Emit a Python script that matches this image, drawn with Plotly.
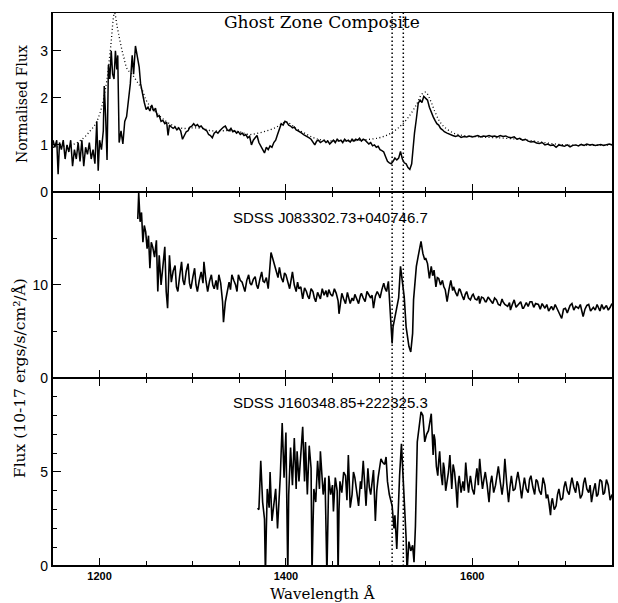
import plotly.graph_objects as go
from plotly.subplots import make_subplots

# ---- Ghost zone composite (normalised) ----
comp_wave = [1150, 1152, 1154, 1155.5, 1157, 1159, 1161, 1163, 1165, 1167, 1169, 1171, 1173, 1175, 1177, 1179,
             1181, 1183, 1185, 1187, 1189, 1191, 1193, 1195, 1197, 1198.5, 1200, 1202, 1204, 1205, 1206.5, 1208,
             1209.5, 1211, 1212.5, 1214, 1215.5, 1217, 1218.5, 1219.5, 1221, 1223, 1225, 1227, 1229, 1231, 1233,
             1235, 1236.5, 1238.5, 1240.5, 1242.5, 1244, 1246, 1248, 1250, 1252, 1254, 1256, 1258, 1260, 1262,
             1264, 1266, 1268, 1270, 1272, 1273.5, 1275, 1277, 1279, 1281, 1283, 1285, 1287, 1289, 1291, 1293,
             1295, 1297, 1299, 1301, 1303, 1305, 1307, 1309, 1311, 1313, 1315, 1317, 1319, 1321, 1323, 1325,
             1327, 1329, 1331, 1333, 1335, 1337, 1339, 1341, 1343, 1345, 1347, 1349, 1351, 1353, 1355, 1357,
             1359, 1361, 1363, 1365, 1367, 1369, 1371, 1373, 1375, 1377, 1379, 1381, 1383, 1385, 1387, 1389,
             1391, 1393, 1395, 1397, 1399, 1401, 1403, 1405, 1407, 1409, 1411, 1413, 1415, 1417, 1419, 1421,
             1423, 1425, 1427, 1429, 1431, 1433, 1435, 1437, 1439, 1441, 1443, 1445, 1447, 1449, 1451, 1453,
             1455, 1457, 1459, 1461, 1463, 1465, 1467, 1469, 1471, 1473, 1475, 1477, 1479, 1481, 1483, 1485,
             1487, 1489, 1491, 1493, 1495, 1497, 1499, 1501, 1503, 1505, 1507, 1509, 1511, 1513, 1515, 1517,
             1519, 1521, 1523, 1525, 1527, 1529, 1531, 1533, 1535, 1536.5, 1538, 1540, 1542, 1544, 1546, 1548,
             1550, 1552, 1554, 1556, 1558, 1560, 1562, 1564, 1566, 1568, 1570, 1573, 1576, 1579, 1582, 1585,
             1588, 1591, 1594, 1597, 1600, 1603, 1606, 1609, 1612, 1615, 1618, 1621, 1624, 1627, 1630, 1633,
             1636, 1639, 1642, 1645, 1648, 1651, 1654, 1657, 1660, 1663, 1666, 1669, 1672, 1675, 1678, 1681,
             1684, 1687, 1690, 1693, 1696, 1699, 1702, 1705, 1708, 1711, 1714, 1717, 1720, 1723, 1726, 1729,
             1732, 1735, 1738, 1741, 1744, 1747, 1750]
comp_flux = [1.1, 0.95, 1.1, 0.38, 1.05, 0.9, 1.1, 0.7, 1.0, 0.85, 1.1, 0.55, 0.9, 0.7, 1.05, 0.65,
             1.1, 0.55, 0.95, 0.8, 1.05, 0.7, 0.9, 0.6, 1.5, 0.45, 1.1, 0.9, 1.3, 2.25, 1.6, 0.68,
             2.7, 2.4, 3.0, 2.5, 2.4, 3.0, 2.6, 2.9, 1.05, 1.3, 1.02, 1.5, 1.6, 2.0, 2.3,
             2.9, 2.5, 3.1, 2.9, 2.65, 2.3, 2.05, 1.9, 1.75, 1.8, 1.72, 1.85, 1.72, 1.78, 1.6,
             1.62, 1.5, 1.52, 1.45, 1.48, 1.2, 1.42, 1.38, 1.35, 1.38, 1.32, 1.36, 1.3, 1.12, 1.22, 1.28,
             1.3, 1.38, 1.4, 1.45, 1.4, 1.43, 1.38, 1.4, 1.35, 1.32, 1.3, 1.22, 1.2, 1.15, 1.25, 1.28,
             1.25, 1.3, 1.35, 1.38, 1.4, 1.32, 1.3, 1.35, 1.28, 1.3, 1.25, 1.28, 1.22, 1.25, 1.2, 1.22,
             1.15, 1.18, 1.0, 1.1, 1.15, 1.2, 1.05, 0.98, 0.9, 0.83, 0.95, 0.9, 0.98, 0.95, 1.05, 1.1,
             1.22, 1.35, 1.45, 1.42, 1.5, 1.48, 1.42, 1.4, 1.36, 1.38, 1.32, 1.3, 1.28, 1.25, 1.22, 1.2,
             1.18, 1.15, 1.12, 1.05, 1.0, 1.08, 1.1, 1.05, 1.08, 1.1, 1.05, 1.08, 1.02, 1.06, 1.1, 1.05,
             1.12, 1.08, 1.1, 1.05, 1.12, 1.08, 1.1, 1.06, 1.12, 1.08, 1.12, 1.1, 1.14, 1.08, 1.12, 1.1,
             1.05, 1.02, 1.05, 0.98, 1.0, 0.95, 0.97, 0.9, 0.88, 0.85, 0.75, 0.65, 0.62, 0.6, 0.65, 0.72,
             0.68, 0.72, 0.86, 0.7, 0.62, 0.6, 0.52, 0.48, 0.6, 0.95, 1.25, 1.55, 1.88, 1.95, 1.9, 2.03,
             1.98, 1.95, 1.8, 1.68, 1.6, 1.52, 1.45, 1.42, 1.35, 1.32, 1.28, 1.25, 1.22, 1.2, 1.18, 1.2,
             1.16, 1.18, 1.17, 1.19, 1.17, 1.18, 1.2, 1.17, 1.19, 1.18, 1.2, 1.18, 1.19, 1.17, 1.2, 1.18,
             1.19, 1.16, 1.15, 1.17, 1.12, 1.14, 1.1, 1.12, 1.08, 1.06, 1.07, 1.04, 1.03, 1.05, 1.0, 1.02,
             0.99, 1.0, 0.95, 1.0, 0.98, 0.97, 1.0, 0.96, 0.99, 1.0, 0.98, 1.01, 0.99, 1.02, 1.0, 1.01,
             0.99, 1.0, 1.01, 0.99, 1.0, 1.02, 1.0]

# Unabsorbed template continuum (dotted)
cont_wave = [1150, 1160, 1170, 1180, 1190, 1196, 1200, 1204, 1208, 1212, 1216, 1219, 1222, 1226, 1230,
             1235, 1240, 1245, 1250, 1255, 1260, 1270, 1280, 1290, 1300, 1310, 1320, 1330, 1340, 1350,
             1360, 1370, 1380, 1390, 1398, 1402, 1410, 1420, 1430, 1440, 1460, 1480, 1490, 1500, 1510,
             1520, 1530, 1540, 1546, 1550, 1555, 1560, 1565, 1570, 1580, 1590, 1600, 1650, 1700, 1750]
cont_flux = [0.95, 0.97, 1.0, 1.1, 1.3, 1.46, 1.65, 1.95, 2.4, 3.1, 3.8, 3.5, 3.2, 2.85, 2.6,
             2.5, 2.35, 2.2, 1.95, 1.8, 1.7, 1.52, 1.4, 1.35, 1.36, 1.35, 1.3, 1.3, 1.3, 1.28,
             1.22, 1.25, 1.3, 1.38, 1.48, 1.48, 1.36, 1.25, 1.15, 1.1, 1.08, 1.1, 1.12, 1.15, 1.22,
             1.35, 1.55, 1.85, 2.08, 2.12, 1.95, 1.7, 1.5, 1.38, 1.25, 1.2, 1.18, 1.12, 1.0, 1.0]

# ---- SDSS J083302.73+040746.7 ----
j0833_wave = [1241, 1242, 1243.5, 1245, 1246.5, 1248, 1249.5, 1251, 1252.5, 1254, 1255.5, 1257, 1259, 1261,
              1262.5, 1264, 1266, 1268, 1270, 1271.5, 1273, 1275, 1277, 1279, 1281, 1282.5, 1284, 1286,
              1288, 1289.5, 1291, 1293, 1295, 1296.5, 1298, 1300, 1302, 1303.5, 1305, 1307, 1309, 1311,
              1312, 1314, 1316, 1318, 1320, 1321.5, 1323, 1325, 1326.5, 1328, 1330, 1332, 1333, 1335,
              1337, 1339, 1340.5, 1342, 1344, 1346, 1347.5, 1349, 1351, 1353, 1354.5, 1356, 1358, 1360,
              1361.5, 1363, 1365, 1367, 1368.5, 1370, 1372, 1374, 1375.5, 1377, 1379, 1381, 1382.5, 1384,
              1386, 1388, 1390, 1391.5, 1393, 1395, 1397, 1398.5, 1400, 1402, 1404, 1405.5, 1407, 1409,
              1411, 1412.5, 1414, 1416, 1418, 1420, 1422, 1423.5, 1425, 1427, 1429, 1430.5, 1432, 1434,
              1436, 1437, 1439, 1441, 1443, 1444.5, 1446, 1448, 1450, 1452, 1454, 1456, 1457, 1459,
              1460, 1462, 1464, 1466, 1467, 1469, 1471, 1472.5, 1474, 1476, 1478, 1480, 1481, 1483,
              1485, 1487, 1489, 1491, 1492.5, 1494, 1496, 1498, 1500, 1501, 1503, 1505, 1506.5, 1508,
              1510, 1512, 1514, 1515, 1517, 1519, 1521, 1523, 1525, 1527, 1529, 1532, 1534, 1536,
              1537, 1540, 1542, 1543, 1545, 1547, 1549, 1550, 1552, 1554, 1556, 1557.5, 1559, 1561,
              1562.5, 1564, 1566, 1568, 1569.5, 1571, 1573, 1575, 1577, 1579, 1580, 1582, 1584, 1586,
              1587, 1589, 1591, 1592.5, 1594, 1596, 1598, 1600, 1601, 1603, 1605, 1607, 1608, 1610,
              1612, 1614, 1615, 1617, 1619, 1621, 1622, 1624, 1626, 1628, 1630, 1632, 1633, 1635,
              1638, 1640, 1641, 1643, 1645, 1647, 1648, 1650, 1652, 1654, 1655, 1658, 1660, 1662,
              1664, 1666, 1668, 1671, 1673, 1675, 1678, 1680, 1682, 1685, 1687, 1689, 1691, 1693,
              1696, 1698, 1700, 1702, 1705, 1707, 1709, 1711, 1714, 1716, 1719, 1721, 1723, 1725,
              1727, 1730, 1732, 1734, 1737, 1739, 1741, 1744, 1746, 1748, 1750]
j0833_flux = [17.1, 19.9, 16.8, 17.8, 14.6, 16.4, 15.7, 13.9, 15.3, 11.8, 14.6, 14.1, 13.0, 14.8,
              9.3, 13.2, 10.0, 12.5, 14.1, 9.3, 7.5, 13.2, 10.3, 11.5, 12.1, 9.8, 9.3, 11.0,
              12.5, 10.5, 10.0, 11.5, 12.3, 10.2, 9.6, 10.8, 11.8, 10.0, 9.3, 10.5, 11.4, 10.2,
              12.5, 10.6, 9.3, 10.4, 11.1, 10.0, 9.6, 10.5, 9.5, 11.1, 10.2, 8.2, 6.0, 8.2,
              9.5, 10.3, 9.5, 11.1, 10.5, 10.0, 9.3, 11.1, 10.5, 10.3, 9.8, 9.3, 10.5, 11.1,
              10.2, 10.0, 10.6, 10.9, 10.0, 9.6, 10.6, 11.4, 10.4, 10.3, 10.8, 9.6, 11.5, 13.5,
              12.8, 12.0, 11.4, 10.8, 11.9, 10.8, 10.3, 11.3, 11.1, 10.2, 9.6, 10.5, 11.4, 10.0,
              9.3, 10.3, 9.6, 9.8, 8.5, 9.7, 9.3, 8.8, 8.5, 9.6, 9.3, 8.6, 8.2, 9.2,
              8.8, 8.5, 9.6, 8.9, 9.4, 8.7, 9.5, 9.0, 8.8, 9.6, 9.1, 8.3, 6.9, 8.6,
              9.1, 8.5, 8.0, 9.2, 8.8, 8.0, 8.6, 8.3, 9.0, 8.4, 8.0, 8.9, 9.1, 8.6,
              8.2, 9.3, 9.0, 8.6, 8.9, 7.5, 8.8, 9.3, 8.9, 8.6, 9.5, 10.2, 9.6, 9.3,
              10.4, 7.3, 3.7, 5.5, 6.5, 7.3, 8.6, 12.0, 10.5, 8.7, 5.5, 3.4, 2.8, 4.8,
              8.4, 12.0, 13.1, 13.8, 14.7, 13.4, 12.7, 12.9, 12.3, 10.7, 12.0, 11.0, 11.6, 9.8,
              10.8, 10.7, 10.0, 10.5, 9.8, 9.5, 8.2, 9.5, 10.5, 9.4, 9.8, 9.2, 8.8, 9.6,
              9.5, 8.9, 8.4, 9.0, 9.3, 8.6, 8.4, 8.9, 9.0, 8.5, 8.4, 8.8, 8.0, 8.7,
              8.6, 8.2, 8.2, 8.7, 8.4, 8.1, 8.0, 8.6, 8.4, 7.9, 7.8, 8.5, 8.2, 7.9,
              7.7, 8.1, 7.3, 7.9, 8.4, 7.6, 7.7, 8.0, 8.2, 7.5, 7.5, 8.1, 7.7, 8.2,
              8.2, 7.6, 8.0, 7.9, 7.4, 8.0, 7.5, 7.9, 7.2, 7.7, 7.3, 7.9, 7.5, 7.1,
              6.4, 7.4, 7.5, 7.0, 7.8, 8.0, 7.3, 7.7, 7.5, 7.9, 6.6, 7.4, 7.8, 7.9,
              7.2, 7.6, 7.3, 7.9, 7.2, 7.9, 7.4, 7.8, 7.3, 7.6, 8.0]

# ---- SDSS J160348.85+222325.3 ----
j1603_wave = [1369.5, 1371, 1373, 1375, 1377, 1378, 1379, 1380, 1382, 1383, 1385, 1387, 1389, 1391,
              1393, 1394, 1396, 1398, 1400, 1401, 1402, 1403, 1405, 1407, 1409, 1411, 1412, 1414,
              1416, 1418, 1420, 1421, 1423, 1425, 1427, 1428, 1429, 1430, 1432, 1434, 1436, 1437,
              1440, 1442, 1444, 1445, 1446, 1448, 1450, 1451, 1453, 1455, 1456, 1457, 1458, 1460,
              1462, 1464, 1465.5, 1467, 1469, 1471, 1472.5, 1474, 1476, 1478, 1480, 1481, 1483, 1486,
              1488, 1489.5, 1491, 1494, 1496, 1497.5, 1499, 1502, 1504, 1506, 1507.5, 1509, 1511, 1514,
              1516, 1517, 1519, 1520, 1522, 1524, 1526, 1527, 1529, 1530, 1532, 1534, 1536, 1537.5,
              1539, 1541, 1543, 1545, 1547, 1549, 1551, 1553, 1556, 1557, 1558, 1559, 1560, 1561.5,
              1563, 1564, 1565, 1566.5, 1568, 1569, 1570, 1571.5, 1573, 1574.5, 1576, 1577, 1578, 1579.5,
              1581, 1582.5, 1584, 1585, 1586, 1588, 1590, 1591.5, 1593, 1594.5, 1596, 1597, 1598, 1600,
              1602, 1603.5, 1605, 1606.5, 1608, 1609.5, 1611, 1612.5, 1614, 1616, 1618, 1619.5, 1621, 1623,
              1625, 1626.5, 1628, 1630, 1632, 1633.5, 1635, 1637, 1639, 1640.5, 1642, 1644, 1646, 1647.5,
              1649, 1651, 1653, 1654.5, 1656, 1658, 1660, 1661.5, 1663, 1665, 1667, 1668.5, 1670, 1672,
              1674, 1676, 1678, 1679.5, 1681, 1682.5, 1684, 1685, 1686, 1688, 1690, 1691.5, 1693, 1695,
              1697, 1698.5, 1700, 1702, 1704, 1705.5, 1707, 1709, 1711, 1712.5, 1714, 1716, 1718, 1719.5,
              1721, 1723, 1725, 1726.5, 1728, 1730, 1732, 1733.5, 1735, 1737, 1739, 1740.5, 1742, 1744,
              1746, 1748, 1750]
j1603_flux = [3.07, 3.0, 5.6, 3.4, 2.5, -0.5, 2.0, 4.1, 3.1, 5.0, 2.4, 3.4, 4.1, 2.0,
              3.8, 4.8, 7.6, 4.7, 7.1, 4.0, -0.5, 3.8, 6.3, 4.3, 6.8, 4.1, 6.1, 4.5,
              5.8, 7.4, 4.5, 6.6, 3.8, 6.4, 5.2, -0.5, 2.0, 4.1, 3.4, 5.6, 4.1, 6.1,
              3.8, 4.7, -0.5, 3.0, 4.8, 3.8, 4.3, 2.9, 4.7, 4.0, -0.5, 3.0, 4.5, 3.9,
              5.0, 4.8, 3.5, 5.9, 3.1, 3.8, 5.0, 4.7, 4.0, 3.2, 4.5, 4.1, 5.6, 3.2,
              5.2, 4.2, 3.8, 5.1, 2.4, 4.0, 4.7, 5.7, 5.5, 5.4, 5.8, 4.5, 3.8, 3.2,
              2.0, 2.7, 0.9, 2.4, 4.8, 6.5, 4.7, 3.2, 1.5, -0.3, 1.3, 0.8, 1.1, 0.2,
              2.1, 6.6, 7.6, 8.2, 8.0, 6.6, 7.0, 7.2, 8.1, 6.5, 5.9, 7.0, 6.7, 5.3,
              4.8, 5.6, 6.1, 4.9, 4.3, 5.5, 5.2, 4.0, 4.5, 5.0, 5.9, 4.7, 4.1, 5.4,
              5.0, 4.2, 3.1, 4.4, 4.8, 3.9, 4.5, 4.0, 5.5, 4.6, 3.9, 4.4, 4.8, 4.1,
              3.8, 4.6, 5.2, 4.3, 5.7, 4.8, 4.1, 4.6, 5.0, 4.3, 3.4, 4.4, 4.8, 3.9,
              4.3, 4.8, 5.3, 4.5, 3.8, 4.4, 5.7, 4.4, 3.4, 4.2, 4.8, 4.0, 4.1, 4.6,
              5.0, 4.4, 3.6, 4.2, 4.7, 4.1, 3.9, 4.6, 4.8, 4.2, 3.8, 4.6, 4.5, 4.0,
              3.8, 4.7, 4.3, 3.6, 3.8, 3.3, 2.7, 3.4, 3.6, 3.0, 3.2, 3.8, 4.1, 3.5,
              3.6, 4.2, 4.5, 4.0, 3.8, 4.3, 4.7, 4.2, 3.9, 4.5, 4.3, 3.6, 3.8, 4.4,
              4.7, 4.1, 3.9, 4.3, 3.4, 4.0, 4.4, 3.7, 3.8, 4.6, 4.5, 3.8, 3.9, 4.6,
              4.3, 3.5, 3.8]

# Absorption trough markers
trough_lines = [1514, 1526]

panel_labels = ["Ghost Zone Composite", "SDSS J083302.73+040746.7", "SDSS J160348.85+222325.3"]

fig = make_subplots(rows=3, cols=1, shared_xaxes=True, vertical_spacing=0)

fig.add_trace(go.Scatter(x=cont_wave, y=cont_flux, mode="lines", line_shape="spline",
                         line=dict(color="black", width=1.3, dash="1px,2.5px"), hoverinfo="skip"),
              row=1, col=1)
fig.add_trace(go.Scatter(x=comp_wave, y=comp_flux, mode="lines", line=dict(color="black", width=1.5)),
              row=1, col=1)
fig.add_trace(go.Scatter(x=j0833_wave, y=j0833_flux, mode="lines", line=dict(color="black", width=1.6)),
              row=2, col=1)
fig.add_trace(go.Scatter(x=j1603_wave, y=j1603_flux, mode="lines", line=dict(color="black", width=1.6)),
              row=3, col=1)

for lam in trough_lines:
    fig.add_shape(type="line", xref="x", yref="paper", x0=lam, x1=lam, y0=0, y1=1,
                  line=dict(color="black", width=1.5, dash="1.5px,2.5px"))

# heavier bottom frame edge
fig.add_shape(type="line", xref="paper", yref="paper", x0=0, x1=1, y0=0, y1=0,
              line=dict(color="black", width=2.2))

xcommon = dict(range=[1150, 1750], tick0=1200, dtick=200, ticks="inside", ticklen=8, tickwidth=1.3,
               tickcolor="black", showline=True, linewidth=1.3, linecolor="black",
               showgrid=False, zeroline=False,
               minor=dict(dtick=50, tick0=1150, ticks="inside", ticklen=5, tickwidth=1.3, tickcolor="black",
                          showgrid=False))
fig.update_xaxes(**xcommon)
fig.update_xaxes(mirror=True, row=1, col=1)
fig.update_xaxes(mirror="ticks", row=2, col=1)
fig.update_xaxes(mirror="ticks", row=3, col=1,
                 tickfont=dict(family="Liberation Sans", size=11, color="black", weight="bold"))

ycommon = dict(ticks="inside", ticklen=8, tickwidth=1.3, tickcolor="black", showline=True, linewidth=2.2,
               linecolor="black", mirror=True, showgrid=False, zeroline=False,
               tickfont=dict(family="Liberation Sans", size=14, color="black"))
fig.update_yaxes(**ycommon)
fig.update_yaxes(range=[0, 3.8], tickvals=[0, 1, 2, 3], domain=[0.6763, 1.0], row=1, col=1)
fig.update_yaxes(range=[0, 20], tickvals=[0, 10, 20], ticktext=["0", "10", ""], domain=[0.340, 0.6763],
                 minor=dict(dtick=5, ticks="inside", ticklen=4, tickwidth=1.3, tickcolor="black"),
                 row=2, col=1)
fig.update_yaxes(range=[0, 10], tickvals=[0, 5, 10], ticktext=["0", "5", ""], domain=[0.0, 0.340],
                 minor=dict(dtick=1, ticks="inside", ticklen=4, tickwidth=1.3, tickcolor="black"),
                 row=3, col=1)

serif = "DejaVu Serif"
sans = "Liberation Sans"
annots = [
    dict(text=panel_labels[0], x=0.4813, y=0.9837, font=dict(family=serif, size=17, color="black")),
    dict(text=panel_labels[1], x=0.4973, y=0.6311, font=dict(family=sans, size=15, color="black")),
    dict(text=panel_labels[2], x=0.4973, y=0.2948, font=dict(family=sans, size=15, color="black")),
    dict(text="Normalised Flux", x=-0.0553, y=0.8354, textangle=-90,
         font=dict(family=serif, size=14, color="black")),
    dict(text="Flux (10-17 ergs/s/cm²/Å)", x=-0.0588, y=0.340, textangle=-90,
         font=dict(family=serif, size=15.5, color="black")),
    dict(text="Wavelength Å", x=0.483, y=-0.0506, font=dict(family=serif, size=15, color="black")),
]
for a in annots:
    fig.add_annotation(xref="paper", yref="paper", showarrow=False, xanchor="center", yanchor="middle", **a)

fig.update_layout(width=618, height=603, margin=dict(l=53, r=4, t=13, b=37),
                  paper_bgcolor="white", plot_bgcolor="white", showlegend=False)

fig.write_html("out.html")
